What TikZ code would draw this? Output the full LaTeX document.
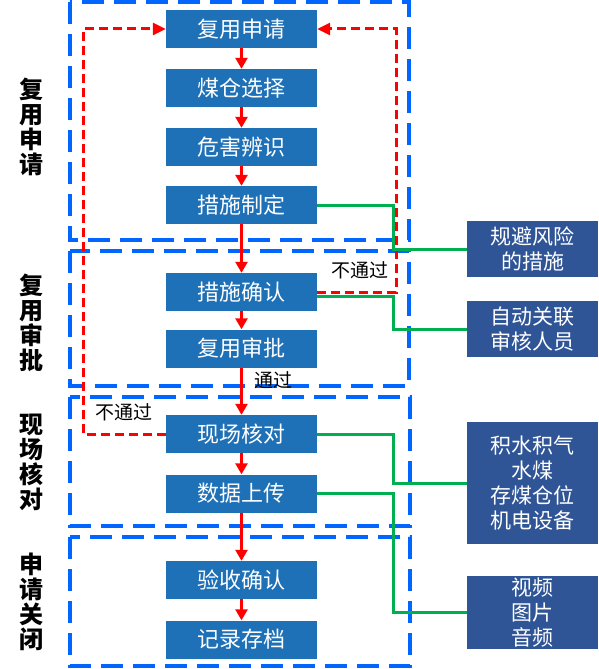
\documentclass[tikz,border=0pt]{standalone}
\usepackage{fontspec}
\setmainfont{Noto Sans CJK SC}
\usetikzlibrary{calc, arrows.meta, positioning}

\definecolor{procBlue}{RGB}{30,112,183}
\definecolor{noteBlue}{RGB}{47,85,151}
\definecolor{frameBlue}{RGB}{0,102,255}
\definecolor{linkGreen}{RGB}{0,176,80}

\tikzset{
    procBox/.style={fill=procBlue, text=white, minimum width=151pt, minimum height=38pt,
        inner sep=0pt, font=\fontsize{22}{24}\selectfont},
    noteBox/.style={fill=noteBlue, text=white, minimum width=131pt, inner sep=0pt,
        align=center, font=\fontsize{21}{25}\selectfont},
    secFrame/.style={draw=frameBlue, line width=3.5pt, dash pattern=on 22pt off 10pt},
    stageLabel/.style={align=center, font=\bfseries\fontsize{24}{25}\selectfont},
    flowArrow/.style={draw=red, line width=2.5pt, -{Triangle[width=12pt,length=11pt]}},
    backArrow/.style={draw=red, line width=3pt, dash pattern=on 9pt off 5pt,
        -{Triangle[width=12pt,length=13pt]}},
    linkLine/.style={draw=linkGreen, line width=3pt},
    passLabel/.style={inner sep=0pt, font=\fontsize{19}{21}\selectfont}
}

\begin{document}
\begin{tikzpicture}[x=1pt, y=1pt]

\useasboundingbox (0,0) rectangle (598,-669);

%阶段虚线框
\draw[secFrame] (70,-2) rectangle (409,-240);
\draw[secFrame] (70,-251) rectangle (409,-386);
\draw[secFrame] (70,-397) rectangle (410,-526);
\draw[secFrame] (70,-537) rectangle (410,-666);

%阶段名称
\foreach \sName/\sY/\sText in {sApply/127/{复\\用\\申\\请}, sApprove/323/{复\\用\\审\\批},
    sCheck/462/{现\\场\\核\\对}, sClose/602/{申\\请\\关\\闭}}
{
    \node[stageLabel] (\sName) at (31,-\sY) {\sText};
}

%流程方框
\foreach \nName/\nY/\nText in {apply/29/复用申请, coal/88/煤仓选择, hazard/147/危害辨识,
    plan/205/措施制定, confirm/292/措施确认, approve/348.5/复用审批, check/434/现场核对,
    upload/493.5/数据上传, accept/580/验收确认, archive/639.5/记录存档}
{
    \node[procBox] (\nName) at (241.5,-\nY) {\nText};
}

%右侧说明
\node[noteBox, minimum height=56pt] (risk) at (532.5,-249) {规避风险\\的措施};
\node[noteBox, minimum height=56pt] (staff) at (532.5,-329) {自动关联\\审核人员};
\node[noteBox, minimum height=122pt] (items) at (532.5,-483) {积水积气\\水煤\\存煤仓位\\机电设备};
\node[noteBox, minimum height=73pt] (media) at (532.5,-612.5) {视频\\图片\\音频};

%主流程箭头
\foreach \a/\b in {apply/coal, coal/hazard, hazard/plan, plan/confirm, confirm/approve,
    approve/check, check/upload, upload/accept, accept/archive}
{
    \draw[flowArrow] (\a.south) -- (\b.north);
}
\node[passLabel] (passTxt) at (273,-380) {通过};

%退回路线
\coordinate (backR) at (396,-29);
\coordinate (backL) at (83,-29);
\draw[backArrow] (confirm.east) -| (backR) -- (apply.east);
\draw[backArrow] (check.west) -| (backL) -- (apply.west);
\node[passLabel] (failR) at (360,-270) {不通过};
\node[passLabel] (failL) at (124,-412) {不通过};

%关联线
\coordinate (gX) at (393,0);
\draw[linkLine] (plan.east) -- (plan.east -| gX) |- (risk.west);
\draw[linkLine] ([yshift=-4pt]confirm.east) -- ([yshift=-4pt]confirm.east -| gX) |- (staff.west);
\draw[linkLine] (check.east) -- (check.east -| gX) |- (items.west);
\draw[linkLine] (upload.east) -- (upload.east -| gX) |- (media.west);

\end{tikzpicture}
\end{document}
